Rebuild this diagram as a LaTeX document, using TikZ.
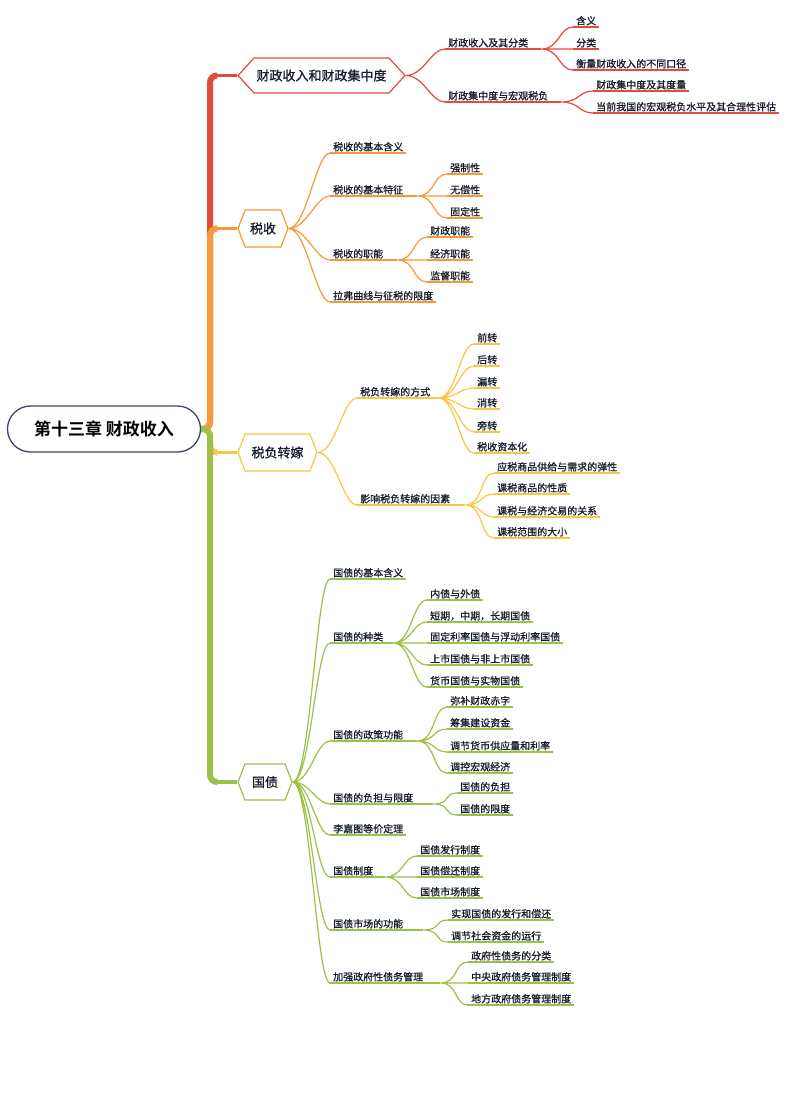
\documentclass[tikz,border=0pt]{standalone}
\usepackage{fontspec}
\usepackage{tikz}
\usetikzlibrary{shapes.symbols}
\newfontfamily\cjk{Noto Sans CJK SC}[BoldFont={Noto Sans CJK SC Bold}]
\newfontfamily\cjkmid{Noto Sans CJK SC}[FakeBold=0.9]
\definecolor{ink}{RGB}{22,28,44}
\definecolor{rootline}{RGB}{59,71,102}
\definecolor{redbr}{RGB}{229,75,60}
\definecolor{orangebr}{RGB}{245,154,56}
\definecolor{yellowbr}{RGB}{247,200,68}
\definecolor{greenbr}{RGB}{157,192,74}

\begin{document}
\begin{tikzpicture}[
  x=1pt, y=-1pt,
  root/.style={draw=rootline, line width=1.3pt, rounded corners=23pt, minimum width=193pt,
               minimum height=46pt, font=\cjk\bfseries\fontsize{17}{20}\selectfont, text=black},
  hexa/.style={signal, signal to=west and east, draw=#1, fill=white, line width=1.2pt,
               font=\cjkmid\fontsize{13}{15}\selectfont, text=ink, inner sep=0pt},
  topic/.style={anchor=south west, font=\cjkmid\fontsize{10}{12}\selectfont, text=ink,
                inner xsep=3pt, inner ysep=1.2pt, text height=8.5pt, text depth=1pt,
                append after command={(\tikzlastnode.south west) edge[draw=#1, line width=1.1pt] (\tikzlastnode.south east)}},
  link/.style={draw=#1, line width=1.2pt, out=0, in=180, out distance=18pt, in distance=14pt},
  trunk/.style={draw=#1, line width=6pt, rounded corners=7pt},
  stem/.style={draw=#1, line width=3.5pt}
]
\useasboundingbox[fill=white] (0,0) rectangle (805,1106);

\node[root] (root) at (104,429) {第十三章 财政收入};

\node[hexa=redbr, minimum width=167pt, minimum height=35pt, signal pointer angle=95] (h1) at (321.5,75.5) {财政收入和财政集中度};
\node[hexa=orangebr, minimum width=50pt, minimum height=37pt, signal pointer angle=138] (h2) at (263,228.5) {税收};
\node[hexa=yellowbr, minimum width=79pt, minimum height=37pt, signal pointer angle=138] (h3) at (277.5,452.5) {税负转嫁};
\node[hexa=greenbr, minimum width=54pt, minimum height=36pt, signal pointer angle=138] (h4) at (265,782) {国债};

\coordinate (hub) at (210,429);
\draw[trunk=redbr] (root.east) -- (hub) |- ([xshift=-20pt]h1.west);
\draw[stem=redbr] ([xshift=-21pt]h1.west) -- (h1.west);
\draw[trunk=orangebr] (root.east) -- (hub) |- ([xshift=-20pt]h2.west);
\draw[stem=orangebr] ([xshift=-21pt]h2.west) -- (h2.west);
\draw[trunk=yellowbr] (root.east) -- (hub) |- ([xshift=-20pt]h3.west);
\draw[stem=yellowbr] ([xshift=-21pt]h3.west) -- (h3.west);
\draw[trunk=greenbr] (root.east) -- (hub) |- ([xshift=-20pt]h4.west);
\draw[stem=greenbr] ([xshift=-21pt]h4.west) -- (h4.west);

\node[topic=redbr] (fsr) at (445,49) {财政收入及其分类};
\node[topic=redbr] (hanyi) at (573,27) {含义};
\node[topic=redbr] (fenlei) at (573,49) {分类};
\node[topic=redbr] (koujing) at (573,70) {衡量财政收入的不同口径};
\node[topic=redbr] (jzd) at (445,102) {财政集中度与宏观税负};
\node[topic=redbr] (duliang) at (593,91) {财政集中度及其度量};
\node[topic=redbr] (pinggu) at (593,113) {当前我国的宏观税负水平及其合理性评估};

\draw[link=redbr] (h1.east) to (fsr.south west) (h1.east) to (jzd.south west);
\draw[link=redbr] (fsr.south east) -- ++(10,0) coordinate (fsr-r);
\draw[link=redbr] (fsr-r) to (hanyi.south west) (fsr-r) to (fenlei.south west) (fsr-r) to (koujing.south west);
\draw[link=redbr] (jzd.south east) -- ++(10,0) coordinate (jzd-r);
\draw[link=redbr] (jzd-r) to (duliang.south west) (jzd-r) to (pinggu.south west);

\node[topic=orangebr] (hanyi2) at (330,153) {税收的基本含义};
\node[topic=orangebr] (tezheng) at (330,196) {税收的基本特征};
\node[topic=orangebr] (qzx) at (447,174) {强制性};
\node[topic=orangebr] (wcx) at (447,196) {无偿性};
\node[topic=orangebr] (gdx) at (447,218) {固定性};
\node[topic=orangebr] (zhineng) at (330,260) {税收的职能};
\node[topic=orangebr] (czzn) at (427,237) {财政职能};
\node[topic=orangebr] (jjzn) at (427,260) {经济职能};
\node[topic=orangebr] (jdzn) at (427,282) {监督职能};
\node[topic=orangebr] (lafu) at (330,302) {拉弗曲线与征税的限度};

\draw[link=orangebr] (h2.east) to (hanyi2.south west) (h2.east) to (tezheng.south west)
  (h2.east) to (zhineng.south west) (h2.east) to (lafu.south west);
\draw[link=orangebr] (tezheng.south east) -- ++(11,0) coordinate (tezheng-r);
\draw[link=orangebr] (tezheng-r) to (qzx.south west) (tezheng-r) to (wcx.south west) (tezheng-r) to (gdx.south west);
\draw[link=orangebr] (zhineng.south east) -- ++(11,0) coordinate (zhineng-r);
\draw[link=orangebr] (zhineng-r) to (czzn.south west) (zhineng-r) to (jjzn.south west) (zhineng-r) to (jdzn.south west);

\node[topic=yellowbr] (fangshi) at (357,398) {税负转嫁的方式};
\node[topic=yellowbr] (qianzhuan) at (474,344) {前转};
\node[topic=yellowbr] (houzhuan) at (474,366) {后转};
\node[topic=yellowbr] (louzhuan) at (474,388) {漏转};
\node[topic=yellowbr] (xiaozhuan) at (474,409) {消转};
\node[topic=yellowbr] (pangzhuan) at (474,432) {旁转};
\node[topic=yellowbr] (zbh) at (474,453) {税收资本化};
\node[topic=yellowbr] (yinsu) at (357,505) {影响税负转嫁的因素};
\node[topic=yellowbr] (tanxing) at (494,473) {应税商品供给与需求的弹性};
\node[topic=yellowbr] (xingzhi) at (494,494) {课税商品的性质};
\node[topic=yellowbr] (guanxi) at (494,517) {课税与经济交易的关系};
\node[topic=yellowbr] (fanwei) at (494,538) {课税范围的大小};

\draw[link=yellowbr] (h3.east) to (fangshi.south west) (h3.east) to (yinsu.south west);
\draw[link=yellowbr] (fangshi.south east) -- ++(5,0) coordinate (fangshi-r);
\draw[link=yellowbr] (fangshi-r) to (qianzhuan.south west) (fangshi-r) to (houzhuan.south west)
  (fangshi-r) to (louzhuan.south west) (fangshi-r) to (xiaozhuan.south west)
  (fangshi-r) to (pangzhuan.south west) (fangshi-r) to (zbh.south west);
\draw[link=yellowbr] (yinsu.south east) -- ++(12,0) coordinate (yinsu-r);
\draw[link=yellowbr] (yinsu-r) to (tanxing.south west) (yinsu-r) to (xingzhi.south west)
  (yinsu-r) to (guanxi.south west) (yinsu-r) to (fanwei.south west);

\node[topic=greenbr] (gzhy) at (330,579) {国债的基本含义};
\node[topic=greenbr] (zhonglei) at (330,643) {国债的种类};
\node[topic=greenbr] (neiwai) at (427,600) {内债与外债};
\node[topic=greenbr] (qixian) at (427,622) {短期，中期，长期国债};
\node[topic=greenbr] (lilv) at (427,643) {固定利率国债与浮动利率国债};
\node[topic=greenbr] (shangshi) at (427,665) {上市国债与非上市国债};
\node[topic=greenbr] (huobi) at (427,687) {货币国债与实物国债};
\node[topic=greenbr] (zhengce) at (330,741) {国债的政策功能};
\node[topic=greenbr] (chizi) at (447,707) {弥补财政赤字};
\node[topic=greenbr] (chouji) at (447,729) {筹集建设资金};
\node[topic=greenbr] (tiaojie) at (447,752) {调节货币供应量和利率};
\node[topic=greenbr] (tiaokong) at (447,773) {调控宏观经济};
\node[topic=greenbr] (fudan) at (330,804) {国债的负担与限度};
\node[topic=greenbr] (fudan2) at (457,793) {国债的负担};
\node[topic=greenbr] (xiandu) at (457,815) {国债的限度};
\node[topic=greenbr] (ljt) at (330,835) {李嘉图等价定理};
\node[topic=greenbr] (zhidu) at (330,877) {国债制度};
\node[topic=greenbr] (faxing) at (417,856) {国债发行制度};
\node[topic=greenbr] (changhuan) at (417,877) {国债偿还制度};
\node[topic=greenbr] (shichang) at (417,898) {国债市场制度};
\node[topic=greenbr] (gongneng) at (330,930) {国债市场的功能};
\node[topic=greenbr] (shixian) at (448,920) {实现国债的发行和偿还};
\node[topic=greenbr] (yunxing) at (448,942) {调节社会资金的运行};
\node[topic=greenbr] (guanli) at (330,983) {加强政府性债务管理};
\node[topic=greenbr] (fenlei2) at (468,962) {政府性债务的分类};
\node[topic=greenbr] (zhongyang) at (468,983) {中央政府债务管理制度};
\node[topic=greenbr] (difang) at (468,1005) {地方政府债务管理制度};

\draw[link=greenbr] (h4.east) to (gzhy.south west) (h4.east) to (zhonglei.south west)
  (h4.east) to (zhengce.south west) (h4.east) to (fudan.south west)
  (h4.east) to (ljt.south west) (h4.east) to (zhidu.south west)
  (h4.east) to (gongneng.south west) (h4.east) to (guanli.south west);
\draw[link=greenbr] (zhonglei.south east) -- ++(7,0) coordinate (zhonglei-r);
\draw[link=greenbr] (zhonglei-r) to (neiwai.south west) (zhonglei-r) to (qixian.south west)
  (zhonglei-r) to (lilv.south west) (zhonglei-r) to (shangshi.south west) (zhonglei-r) to (huobi.south west);
\draw[link=greenbr] (zhengce.south east) -- ++(11,0) coordinate (zhengce-r);
\draw[link=greenbr] (zhengce-r) to (chizi.south west) (zhengce-r) to (chouji.south west)
  (zhengce-r) to (tiaojie.south west) (zhengce-r) to (tiaokong.south west);
\draw[link=greenbr] (fudan.south east) -- ++(17,0) coordinate (fudan-r);
\draw[link=greenbr] (fudan-r) to (fudan2.south west) (fudan-r) to (xiandu.south west);
\draw[link=greenbr] (zhidu.south east) -- ++(9,0) coordinate (zhidu-r);
\draw[link=greenbr] (zhidu-r) to (faxing.south west) (zhidu-r) to (changhuan.south west) (zhidu-r) to (shichang.south west);
\draw[link=greenbr] (gongneng.south east) -- ++(17,0) coordinate (gongneng-r);
\draw[link=greenbr] (gongneng-r) to (shixian.south west) (gongneng-r) to (yunxing.south west);
\draw[link=greenbr] (guanli.south east) -- ++(14,0) coordinate (guanli-r);
\draw[link=greenbr] (guanli-r) to (fenlei2.south west) (guanli-r) to (zhongyang.south west) (guanli-r) to (difang.south west);
\end{tikzpicture}
\end{document}
